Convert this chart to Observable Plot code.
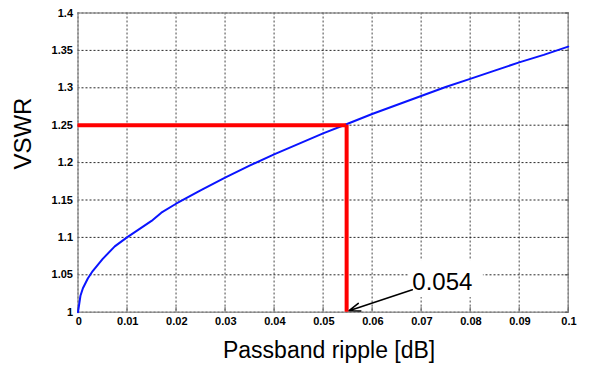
<!DOCTYPE html>
<html>
<head>
<meta charset="utf-8">
<script src="https://cdn.jsdelivr.net/npm/d3@7"></script>
<script src="https://cdn.jsdelivr.net/npm/@observablehq/plot@0.6"></script>
<style>
  html, body { margin: 0; padding: 0; background: #fff; }
  #chart svg { display: block; }
</style>
</head>
<body>
<div id="chart"></div>
<script>
// Curve: passband ripple [dB] vs VSWR
const ripple = [0, 0.0005, 0.001, 0.002, 0.003, 0.005, 0.0075, 0.01, 0.0125, 0.015, 0.017, 0.02, 0.025, 0.03, 0.035, 0.04, 0.045, 0.05, 0.055, 0.06, 0.065, 0.07, 0.075, 0.08, 0.085, 0.09, 0.095, 0.1];
const vswr   = [1.0, 1.022, 1.032, 1.045, 1.055, 1.071, 1.088, 1.100, 1.111, 1.122, 1.133, 1.145, 1.163, 1.180, 1.196, 1.211, 1.225, 1.239, 1.252, 1.265, 1.277, 1.289, 1.301, 1.312, 1.323, 1.334, 1.344, 1.355];

// Marker lines
const markerX = 0.0548;
const markerY = 1.25;
const annotationText = "0.054";

// Tick labels
const xTicks = [0, 0.01, 0.02, 0.03, 0.04, 0.05, 0.06, 0.07, 0.08, 0.09, 0.1];
const yTicks = [1, 1.05, 1.1, 1.15, 1.2, 1.25, 1.3, 1.35, 1.4];

const xLabel = "Passband ripple [dB]";
const yLabel = "VSWR";

const curve = ripple.map((r, i) => ({x: r, y: vswr[i]}));
const hLine = [{x1: 0, x2: markerX, y: markerY}];
const vLine = [{x: markerX, y1: 1, y2: markerY}];
const arrowData = [{x1: 0.0682, y1: 1.030, x2: 0.0553, y2: 1.002}];
const labelData = [{x: 0.0682, y: 1.0393, text: annotationText}];
const boxData = [{x1: 0.0674, x2: 0.0827, y1: 1.0196, y2: 1.069}];

const fmt = d => d === 0 ? "0" : d === 1 ? "1" : String(+d.toFixed(3));

const chart = Plot.plot({
  width: 591,
  height: 367,
  marginLeft: 77.5,
  marginRight: 23.3,
  marginTop: 12.5,
  marginBottom: 55.3,
  style: {fontFamily: "'Liberation Sans', Arial, sans-serif", background: "#fff"},
  x: {domain: [0, 0.1], ticks: xTicks},
  y: {domain: [1, 1.4], ticks: yTicks},
  marks: [
    Plot.gridX(xTicks, {stroke: "#333", strokeOpacity: 0.9, strokeDasharray: "2,2"}),
    Plot.gridY(yTicks, {stroke: "#111", strokeOpacity: 0.9, strokeDasharray: "2,2"}),
    Plot.rect(boxData, {x1: "x1", x2: "x2", y1: "y1", y2: "y2", fill: "white"}),
    Plot.frame({stroke: "#888", strokeWidth: 1.2}),
    Plot.axisX(xTicks, {tickSize: 0, tickPadding: 5, dx: 0.75, tickFormat: fmt, label: null, fontSize: 11, fontWeight: "bold", fill: "#000", letterSpacing: 1.5}),
    Plot.axisX(xTicks, {tickSize: -5, text: null, label: null, stroke: "#666"}),
    Plot.axisY(yTicks, {tickSize: 0, tickPadding: 5, tickFormat: fmt, label: null, fontSize: 11, fontWeight: "bold", fill: "#000", letterSpacing: 1.5}),
    Plot.axisY(yTicks, {anchor: "right", tickSize: -4, text: null, label: null, stroke: "#555"}),
    Plot.line(curve, {x: "x", y: "y", stroke: "#0a14ff", strokeWidth: 2}),
    Plot.ruleY(hLine, {x1: "x1", x2: "x2", y: "y", stroke: "#ff0000", strokeWidth: 4}),
    Plot.ruleX(vLine, {x: "x", y1: "y1", y2: "y2", stroke: "#ff0000", strokeWidth: 4}),
    Plot.arrow(arrowData, {x1: "x1", y1: "y1", x2: "x2", y2: "y2", stroke: "#000", strokeWidth: 1.6, headLength: 11, headAngle: 40}),
    Plot.text(labelData, {x: "x", y: "y", text: "text", textAnchor: "start", fontSize: 24, letterSpacing: 0.4, fill: "#000"}),
    Plot.text([xLabel], {frameAnchor: "bottom", lineAnchor: "middle", dy: 38.6, dx: 6, fontSize: 23, letterSpacing: 1.5, fill: "#000"}),
    Plot.text([yLabel], {frameAnchor: "left", lineAnchor: "middle", dx: -55, dy: 7, rotate: -90, fontSize: 24, letterSpacing: 0.8, fill: "#000"})
  ]
});
document.getElementById("chart").appendChild(chart);
</script>
</body>
</html>
